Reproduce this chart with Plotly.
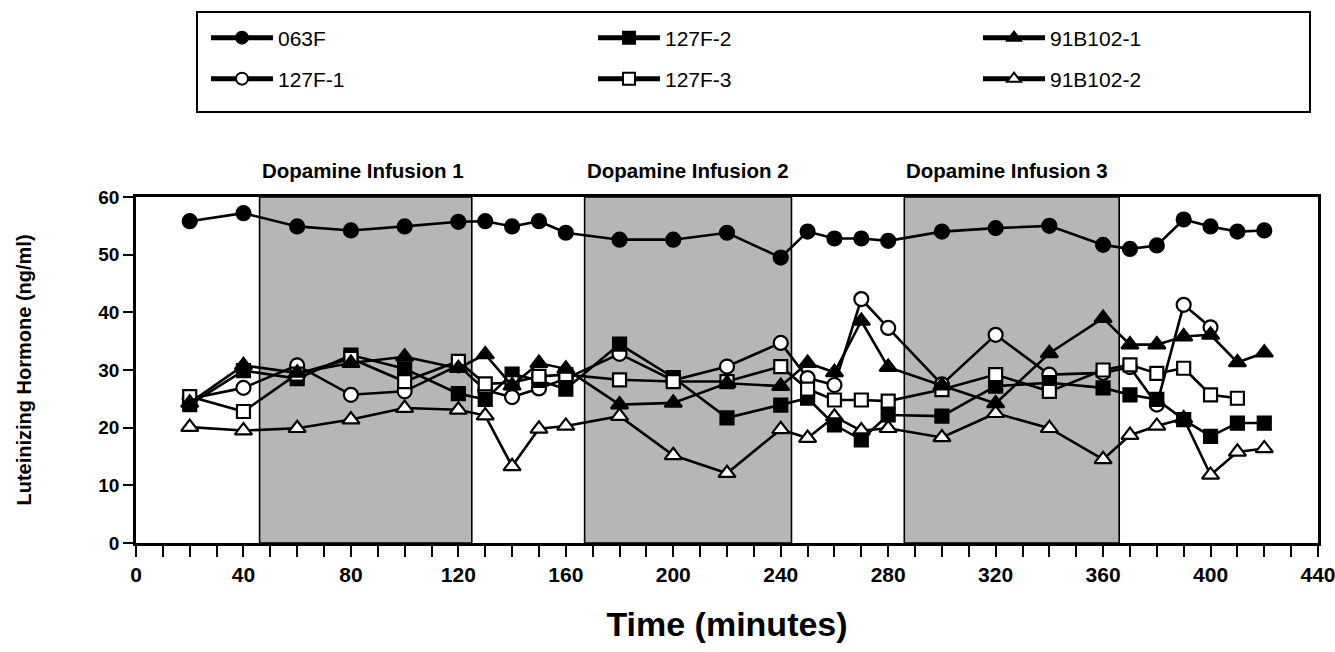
import plotly.graph_objects as go

time = [20, 40, 60, 80, 100, 120, 130, 140, 150, 160, 180, 200, 220, 240,
        250, 260, 270, 280, 300, 320, 340, 360, 370, 380, 390, 400, 410, 420]

s063F = [55.8, 57.2, 54.9, 54.2, 54.9, 55.7, 55.8, 54.9, 55.8, 53.8, 52.6, 52.6, 53.8, 49.5,
         54.0, 52.8, 52.8, 52.4, 54.0, 54.6, 55.0, 51.7, 51.0, 51.6, 56.1, 54.9, 54.0, 54.2]
s127F1 = [25.0, 26.9, 30.8, 25.7, 26.3, 30.8, 26.5, 25.3, 26.8, 28.5, 32.8, 28.2, 30.6, 34.7,
          28.6, 27.4, 42.3, 37.3, 27.5, 36.1, 29.2, 29.5, 30.5, 24.0, 41.3, 37.4, None, None]
s127F2 = [24.0, 29.9, 28.5, 32.6, 30.2, 25.9, 24.9, 29.3, 28.2, 26.7, 34.5, 28.7, 21.7, 23.9,
          25.1, 20.5, 17.9, 22.2, 22.0, 27.2, 27.8, 26.9, 25.7, 24.9, 21.4, 18.5, 20.8, 20.8]
s127F3 = [25.4, 22.8, 29.3, 32.0, 28.0, 31.5, 27.6, 27.8, 28.9, 29.2, 28.3, 28.0, 28.0, 30.6,
          26.7, 24.8, 24.8, 24.6, 26.6, 29.2, 26.3, 30.0, 30.9, 29.4, 30.3, 25.7, 25.1, None]
s91B1021 = [24.3, 30.8, 29.5, 31.2, 32.3, 30.3, 32.7, 27.3, 31.2, 30.2, 24.0, 24.3, 27.7, 27.2,
            31.2, 29.6, 38.5, 30.5, 27.3, 24.2, 32.9, 39.0, 34.4, 34.4, 35.8, 36.1, 31.3, 33.0]
s91B1022 = [20.1, 19.5, 19.9, 21.4, 23.4, 23.1, 22.1, 13.3, 19.8, 20.3, 22.0, 15.2, 12.1, 19.7,
            18.2, 21.9, 19.5, 19.9, 18.3, 22.5, 19.9, 14.5, 18.7, 20.3, 21.6, 11.8, 15.8, 16.4]

infusion_start = [46, 167, 286]
infusion_end = [125, 244, 366]
infusion_labels = ["Dopamine Infusion 1", "Dopamine Infusion 2", "Dopamine Infusion 3"]

x_ticks = list(range(0, 441, 40))
y_ticks = list(range(0, 61, 10))
y_max = 60

# plot-area geometry (pixels) used to place the legend grid
L, R, T, B = 136, 17, 197, 109
PW, PH = 1335 - L - R, 652 - T - B

fig = go.Figure()

# shaded infusion periods
for a, b in zip(infusion_start, infusion_end):
    fig.add_trace(go.Scatter(
        x=[a, a, b, b, a], y=[0, y_max, y_max, 0, 0], mode="lines",
        fill="toself", fillcolor="#b6b6b6",
        line=dict(color="black", width=1.6), showlegend=False, hoverinfo="skip"))

# name, data, symbol, (legend column px, legend row px)
series = [
    ("063F", s063F, "circle", (206, 38)),
    ("91B102-2", s91B1022, "triangle-up-open", (978, 79)),
    ("127F-1", s127F1, "circle-open", (206, 79)),
    ("127F-2", s127F2, "square", (593, 38)),
    ("127F-3", s127F3, "square-open", (593, 79)),
    ("91B102-1", s91B1021, "triangle-up", (978, 38)),
]

legend_layout = {}
for i, (name, data, sym, (lx, ly)) in enumerate(series):
    filled = not sym.endswith("open")
    base = sym.replace("-open", "")
    size = 14 if base == "circle" else (13 if base == "square" else 15)
    key = "legend" if i == 0 else "legend%d" % (i + 1)
    fig.add_trace(go.Scatter(
        x=time, y=data, name=name, mode="lines+markers",
        line=dict(color="black", width=2.6),
        marker=dict(symbol=base, size=size,
                    color="black" if filled else "white",
                    line=dict(color="black", width=2.2)),
        legend=key))
    legend_layout[key] = dict(
        x=(lx - L) / PW, y=(T + PH - ly) / PH, xanchor="left", yanchor="middle",
        orientation="h", itemwidth=62, itemsizing="constant",
        bgcolor="rgba(0,0,0,0)", borderwidth=0,
        font=dict(family="Liberation Sans, Arial", size=21, color="black"),
        itemclick=False, itemdoubleclick=False)

for a, lab in zip(infusion_start, infusion_labels):
    fig.add_annotation(x=a, y=1.0, xref="x", yref="paper", yshift=27,
                       text="<b>" + lab + "</b>", showarrow=False,
                       xanchor="left", yanchor="middle",
                       font=dict(family="Liberation Sans, Arial", size=20.5, color="black"))

# legend frame
fig.add_shape(type="rect", xref="paper", yref="paper",
              x0=(197 - L) / PW, x1=(1310 - L) / PW,
              y0=(T + PH - 112) / PH, y1=(T + PH - 12) / PH,
              line=dict(color="black", width=2), fillcolor="rgba(0,0,0,0)")

fig.update_layout(
    width=1335, height=652,
    margin=dict(l=L, r=R, t=T, b=B, autoexpand=False),
    paper_bgcolor="white", plot_bgcolor="white",
    xaxis=dict(range=[0, 440], tickvals=x_ticks, ticks="outside", ticklen=11, tickwidth=1.6,
               tickcolor="black", showline=True, linecolor="black", linewidth=2.5, mirror=True,
               showgrid=False, zeroline=False, ticklabeloverflow="allow", automargin=False,
               minor=dict(dtick=10, ticks="outside", ticklen=11, tickwidth=1.6, tickcolor="black", showgrid=False),
               tickfont=dict(family="Liberation Sans, Arial", size=21, color="black", weight="bold"),
               title=dict(text="<b>Time (minutes)</b>", standoff=28,
                          font=dict(family="Liberation Sans, Arial", size=34, color="black"))),
    yaxis=dict(range=[0, 60], tickvals=y_ticks, ticks="outside", ticklen=10, tickwidth=1.6,
               tickcolor="black", showline=True, linecolor="black", linewidth=2.5, mirror=True,
               showgrid=False, zeroline=False, automargin=False,
               tickfont=dict(family="Liberation Sans, Arial", size=19, color="black", weight="bold"),
               title=dict(text="<b>Luteinizing Hormone (ng/ml)</b>", standoff=62,
                          font=dict(family="Liberation Sans, Arial", size=20, color="black"))),
    showlegend=True,
    **legend_layout,
)

fig.write_html("out.html")
